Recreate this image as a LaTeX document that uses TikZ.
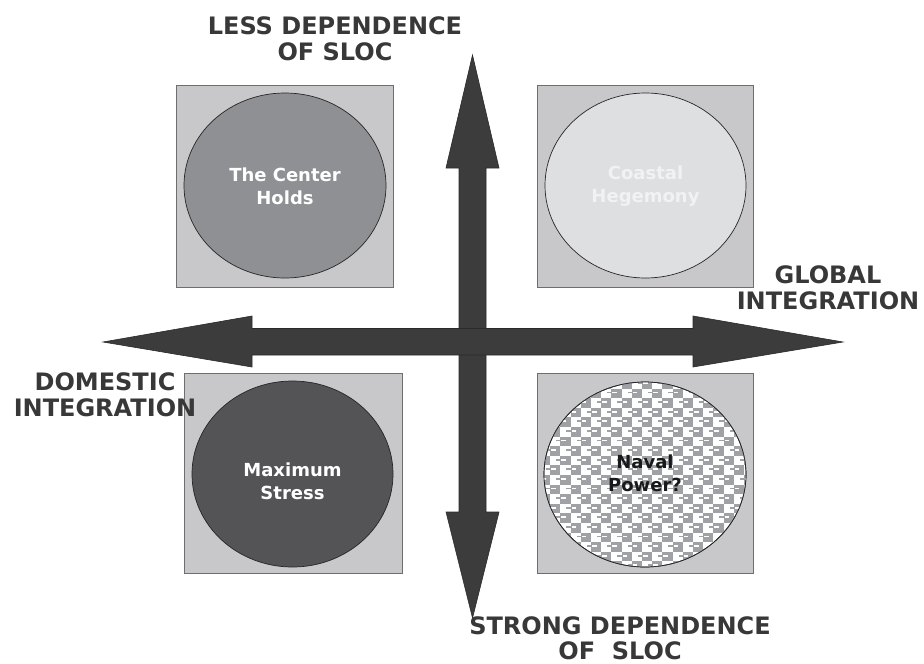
\documentclass[tikz,border=0pt]{standalone}
\usepackage{fontspec}
\setmainfont{DejaVu Sans}
\usetikzlibrary{shapes.geometric}
\definecolor{boxfill}{HTML}{C8C8CA}
\definecolor{boxline}{HTML}{6E6E6E}
\definecolor{arrowfill}{HTML}{3C3C3C}
\definecolor{arrowline}{HTML}{2A2A2A}
\definecolor{labeltext}{HTML}{383838}
\definecolor{midgray}{HTML}{8F9094}
\definecolor{lightgray}{HTML}{DEDFE1}
\definecolor{darkgray}{HTML}{545457}
\definecolor{checkgray}{HTML}{A0A1A5}
\tikzset{
  quadbox/.style={draw=boxline, fill=boxfill, line width=0.9pt, inner sep=0pt},
  scenario/.style={ellipse, draw=black!85, line width=0.7pt, inner sep=0pt},
  scentext/.style={font=\fontsize{18}{23}\selectfont\bfseries, align=center},
  axislabel/.style={font=\fontsize{24}{26}\selectfont\bfseries, align=center, text=labeltext},
  axisarrow/.style={fill=arrowfill, draw=arrowline, line width=0.6pt, line join=miter},
}
\begin{document}
\begin{tikzpicture}[x=1pt,y=-1pt]
\useasboundingbox (0,0) rectangle (924,664);

% quadrant panels
\node[quadbox, minimum width=217pt, minimum height=202pt] (tlbox) at (284.5,186) {};
\node[quadbox, minimum width=216pt, minimum height=202pt] (trbox) at (645,186) {};
\node[quadbox, minimum width=218pt, minimum height=200pt] (blbox) at (293,473) {};
\node[quadbox, minimum width=216pt, minimum height=200pt] (brbox) at (645,473) {};

% scenario discs
\node[scenario, fill=midgray, minimum width=202pt, minimum height=185pt] (center) at (285,185.5) {};
\node[scenario, fill=lightgray, minimum width=201pt, minimum height=185pt] (coastal) at (645.5,185.5) {};
\node[scenario, fill=darkgray, minimum width=201pt, minimum height=186pt] (maxstress) at (292.5,474) {};
\node[scenario, fill=white, minimum width=202pt, minimum height=185pt] (naval) at (645,474.5) {};

% checkered fill of the naval disc
\begin{scope}
  \clip (naval.center) ellipse [x radius=101pt, y radius=92.5pt];
  \foreach \i in {0,...,20} {
    \foreach \j in {0,...,20} {
      \pgfmathtruncatemacro{\cellpar}{mod(\i+\j,2)}
      \ifnum\cellpar=0
        \fill[checkgray] (540+\i*10.2, 379+\j*9.6) rectangle ++(10.2,9.6);
        \fill[white] (541+\i*10.2, 382+\j*9.6) rectangle ++(4.5,1.8);
      \else
        \fill[checkgray] (546+\i*10.2, 382+\j*9.6) rectangle ++(4.5,1.8);
      \fi
    }
  }
\end{scope}
\draw[black!85, line width=0.7pt] (naval.center) ellipse [x radius=101pt, y radius=92.5pt];

% scenario names
\node[scentext, text=white] (centertext) at (285,186) {The Center\\Holds};
\node[scentext, text=white!95!black] (coastaltext) at (645.5,186) {Coastal\\Hegemony};
\node[scentext, text=white] (maxtext) at (292.5,481) {Maximum\\Stress};
\node[scentext, text=black!90] (navaltext) at (645,473) {Naval\\Power?};

% axis arrow corner points
\coordinate (vtop) at (472.5,55);
\coordinate (vbot) at (472.5,618);
\coordinate (hleft) at (103,342);
\coordinate (hright) at (843,342);

% vertical axis
\draw[axisarrow] (vtop) -- (499,168) -- (486,168) -- (486,512) -- (499,512)
  -- (vbot) -- (446,512) -- (459,512) -- (459,168) -- (446,168) -- cycle;
% horizontal axis
\draw[axisarrow] (hleft) -- (252,316) -- (252,328.5) -- (693,328.5) -- (693,316)
  -- (hright) -- (693,367) -- (693,355) -- (252,355) -- (252,367) -- cycle;

% axis labels
\node[axislabel] (less) at (335,39) {LESS DEPENDENCE\\OF SLOC};
\node[axislabel] (global) at (828,288) {GLOBAL\\INTEGRATION};
\node[axislabel] (domestic) at (105,395) {DOMESTIC\\INTEGRATION};
\node[axislabel, font=\fontsize{24}{25}\selectfont\bfseries] (strong) at (620,638) {STRONG DEPENDENCE\\OF~~SLOC};
\end{tikzpicture}
\end{document}
